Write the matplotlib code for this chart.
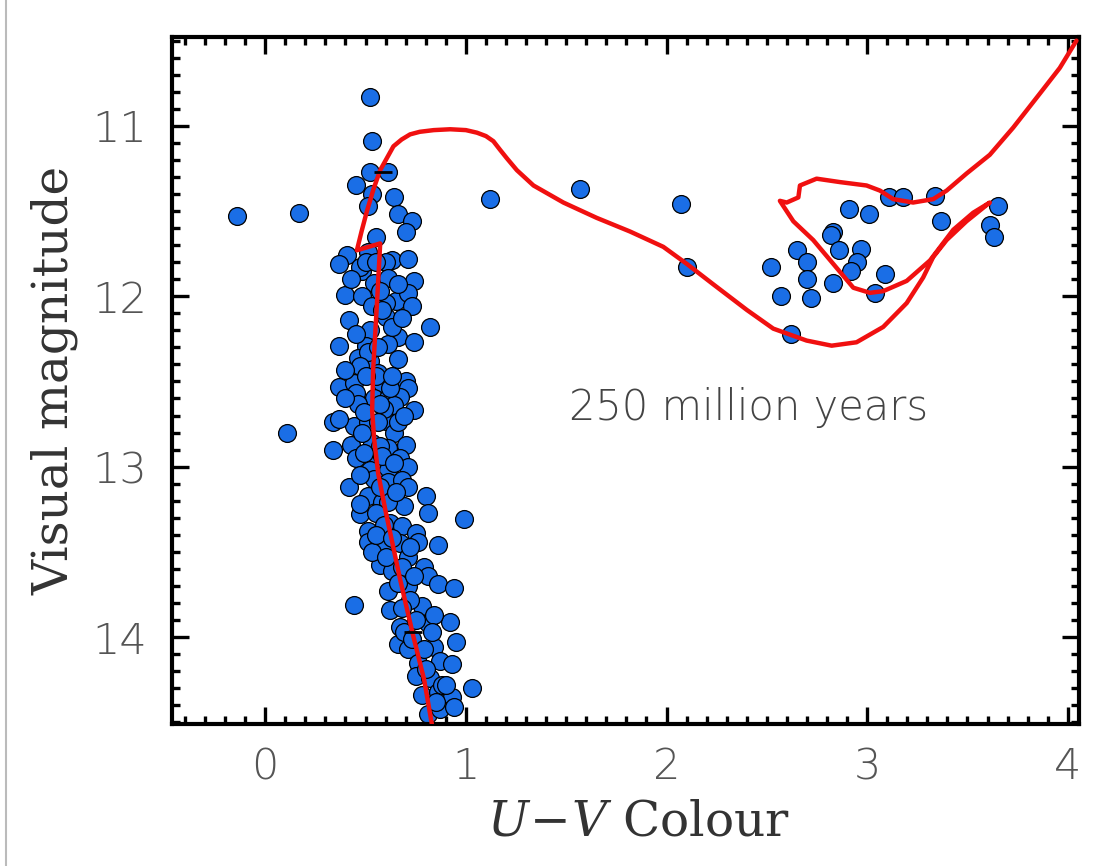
import matplotlib
matplotlib.use('Agg')
import matplotlib.pyplot as plt
from matplotlib.ticker import MultipleLocator
from matplotlib.lines import Line2D

plt.rcParams['mathtext.fontset'] = 'dejavuserif'

# --- stars: U-V colour and visual magnitude ---
star_uv = [
    -0.14, 0.17, 0.52, 0.53, 0.52, 0.61, 0.45, 0.53, 0.64, 0.51, 0.66, 0.73, 0.70, 0.55,
    0.41, 0.37, 0.51, 0.48, 0.63, 0.71, 0.74, 0.60, 0.54, 0.61, 0.47, 0.50,
    0.40, 0.48, 0.53, 0.65, 0.71, 0.73, 0.60, 0.42, 0.82, 0.52, 0.66, 0.74, 0.61, 0.37,
    0.50, 0.46, 0.52, 0.66, 0.56, 0.70, 0.71, 0.37, 0.44, 0.58, 0.45, 0.54, 0.61, 0.67,
    0.74, 0.46, 0.64, 0.34, 0.44, 0.51, 0.60, 0.64, 0.34, 0.43, 0.45, 0.53, 0.61, 0.70,
    0.67, 0.54, 0.71, 0.61, 0.60, 0.51, 0.47, 0.55, 0.62, 0.37, 0.48, 0.59, 0.56, 0.66,
    0.57, 0.52, 0.54, 0.11,
    0.42, 0.51, 0.61, 0.68, 0.71, 0.80, 0.81, 0.47, 0.58, 0.69, 0.99, 0.51, 0.62, 0.68,
    0.75, 0.51, 0.58, 0.67, 0.76, 0.86, 0.57, 0.71, 0.66, 0.79, 0.81, 0.86, 0.94, 0.61,
    0.71, 0.44, 0.62, 0.78, 0.67, 0.81, 0.92, 0.84, 0.72, 0.66, 0.71, 0.84, 0.95, 0.76,
    0.87, 0.93, 0.75, 0.82, 1.03, 0.78, 0.86, 0.93, 0.81, 0.87, 0.94, 0.61, 0.47, 0.55,
    0.59, 0.63, 0.53, 0.68, 0.83, 0.88, 0.69,
    0.50, 0.63, 0.49, 0.57, 0.69, 0.40, 0.49, 0.58, 0.64, 0.47, 0.57, 0.65, 0.55, 0.63,
    0.72, 0.60, 0.66, 0.74, 0.68, 0.75, 0.73, 0.79, 0.80, 0.85, 0.90, 0.58, 0.45, 0.56,
    0.63, 0.40, 0.68, 0.57, 0.43, 0.66, 0.55,
    1.12, 1.57, 2.07, 2.10, 2.52, 2.57, 2.65, 2.70, 2.70, 2.72, 2.62, 2.83, 2.82, 2.91,
    3.01, 2.86, 2.97, 2.95, 2.92, 2.83, 3.09, 3.04, 3.11, 3.18, 3.34, 3.37, 3.65, 3.61,
    3.63,
]
star_v = [
    11.53, 11.51, 10.83, 11.09, 11.27, 11.27, 11.35, 11.40, 11.42, 11.47, 11.52, 11.56, 11.62, 11.65,
    11.76, 11.81, 11.74, 11.85, 11.79, 11.78, 11.91, 11.80, 11.92, 11.89, 11.83, 11.80,
    11.99, 12.00, 12.06, 12.03, 11.98, 12.06, 12.12, 12.14, 12.18, 12.20, 12.24, 12.27, 12.28, 12.29,
    12.29, 12.36, 12.38, 12.37, 12.45, 12.50, 12.54, 12.53, 12.51, 12.51, 12.57, 12.60, 12.60, 12.59,
    12.67, 12.63, 12.64, 12.74, 12.76, 12.74, 12.73, 12.80, 12.90, 12.87, 12.95, 12.86, 12.89, 12.87,
    12.95, 12.98, 13.00, 13.02, 12.04, 12.33, 12.41, 12.47, 12.54, 12.72, 12.80, 12.66, 12.74, 12.74,
    12.88, 13.02, 13.07, 12.80,
    13.12, 13.17, 13.09, 13.08, 13.12, 13.17, 13.27, 13.28, 13.21, 13.23, 13.31, 13.38, 13.33, 13.35,
    13.39, 13.44, 13.47, 13.45, 13.44, 13.46, 13.58, 13.53, 13.63, 13.59, 13.64, 13.69, 13.71, 13.73,
    13.70, 13.81, 13.84, 13.82, 13.94, 13.92, 13.91, 13.87, 13.78, 14.04, 14.07, 14.06, 14.03, 14.15,
    14.14, 14.16, 14.23, 14.24, 14.30, 14.34, 14.32, 14.35, 14.45, 14.42, 14.41, 13.21, 13.22, 13.27,
    13.34, 13.61, 13.50, 13.59, 13.97, 14.28, 13.97,
    12.47, 12.47, 12.68, 12.63, 12.70, 12.60, 12.92, 12.94, 12.98, 13.05, 13.12, 13.15, 13.40, 13.42,
    13.47, 13.53, 13.68, 13.64, 13.83, 13.90, 14.01, 14.07, 14.19, 14.38, 14.28, 12.08, 12.22, 12.30,
    12.18, 12.43, 12.13, 11.97, 11.90, 11.93, 11.80,
    11.43, 11.37, 11.46, 11.83, 11.83, 12.00, 11.73, 11.80, 11.90, 12.01, 12.22, 11.62, 11.64, 11.49,
    11.52, 11.73, 11.72, 11.80, 11.85, 11.92, 11.87, 11.98, 11.42, 11.42, 11.41, 11.56, 11.47, 11.58,
    11.65,
]

# --- 250 Myr isochrone ---
iso_uv = [
    0.832, 0.792, 0.737, 0.672, 0.598, 0.563, 0.543, 0.533, 0.538, 0.558, 0.573,
    0.457, 0.480, 0.507, 0.540, 0.573, 0.606, 0.639, 0.680, 0.722, 0.770, 0.840, 0.922, 1.000,
    1.055, 1.100, 1.137, 1.170, 1.204, 1.254, 1.337, 1.486, 1.652, 1.818, 1.984, 2.101,
    2.233, 2.400, 2.532, 2.698, 2.823, 2.947, 3.080, 3.197, 3.279, 3.329, 3.396, 3.495, 3.611,
    3.528, 3.429, 3.313, 3.197, 3.080, 3.014, 2.931, 2.831, 2.731, 2.632, 2.565,
    2.599, 2.657, 2.665, 2.748, 2.864, 2.997, 3.064, 3.130, 3.229, 3.329, 3.396,
    3.495, 3.611, 3.728, 3.861, 3.960, 4.043,
]
iso_v = [
    14.52, 14.25, 13.99, 13.66, 13.25, 13.04, 12.84, 12.67, 12.43, 12.02, 11.69,
    11.73, 11.62, 11.50, 11.37, 11.26, 11.19, 11.12, 11.08, 11.05, 11.035, 11.025, 11.02, 11.025,
    11.04, 11.06, 11.09, 11.14, 11.19, 11.26, 11.35, 11.45, 11.54, 11.62, 11.71, 11.81,
    11.93, 12.08, 12.19, 12.26, 12.29, 12.27, 12.18, 12.04, 11.89, 11.77, 11.67, 11.56, 11.45,
    11.51, 11.61, 11.79, 11.91, 11.97, 11.98, 11.95, 11.81, 11.67, 11.56, 11.44,
    11.45, 11.42, 11.35, 11.31, 11.33, 11.35, 11.38, 11.43, 11.45, 11.43, 11.38,
    11.28, 11.17, 11.01, 10.81, 10.66, 10.50,
]

# small black marks on the isochrone
mark_v = [11.27, 13.97]
mark_uv0 = [0.54, 0.69]
mark_uv1 = [0.63, 0.78]

fig = plt.figure(figsize=(11.02, 8.66), dpi=100)
ax = fig.add_axes([0.156, 0.164, 0.823, 0.793])

ax.scatter(star_uv, star_v, s=165, c='#1a6ee6', edgecolors='black', linewidths=0.9, zorder=2)
ax.plot(iso_uv, iso_v, color='#f01010', lw=3.2, zorder=3,
        solid_joinstyle='round', solid_capstyle='round')
ax.hlines(mark_v, mark_uv0, mark_uv1, colors='black', lw=2, zorder=4)

ax.set_xlim(-0.465, 4.055)
ax.set_ylim(14.51, 10.48)

# --- ticks ---
ax.xaxis.set_major_locator(MultipleLocator(1))
ax.xaxis.set_minor_locator(MultipleLocator(0.1))
ax.yaxis.set_major_locator(MultipleLocator(1))
ax.yaxis.set_minor_locator(MultipleLocator(0.1))
ax.tick_params(which='both', direction='in', top=True, right=True, width=2.4, colors='black')
ax.tick_params(which='major', length=12)
ax.tick_params(which='minor', length=6)
ax.tick_params(axis='x', which='major', pad=16, labelsize=31, labelcolor='#555555')
ax.tick_params(axis='y', which='major', pad=18, labelsize=31, labelcolor='#555555')
for lab in ax.get_xticklabels() + ax.get_yticklabels():
    lab.set_fontweight('light')
for sp in ax.spines.values():
    sp.set_linewidth(3)

ax.set_xlabel(r'$U\!-\!V$ Colour', family='DejaVu Serif', fontsize=35, color='#333333', labelpad=8)
ax.xaxis.label.set_x(0.515)
ax.set_ylabel('Visual magnitude', family='DejaVu Serif', fontsize=35, color='#333333', labelpad=10)

ax.text(2.41, 12.65, '250 million years', fontsize=30, color='#444444',
        fontweight='light', ha='center', va='center')

# thin grey border at the left edge
fig.add_artist(Line2D([0.005, 0.005], [0, 1], color='#bbbbbb', lw=1.5))

fig.savefig('out.png')
